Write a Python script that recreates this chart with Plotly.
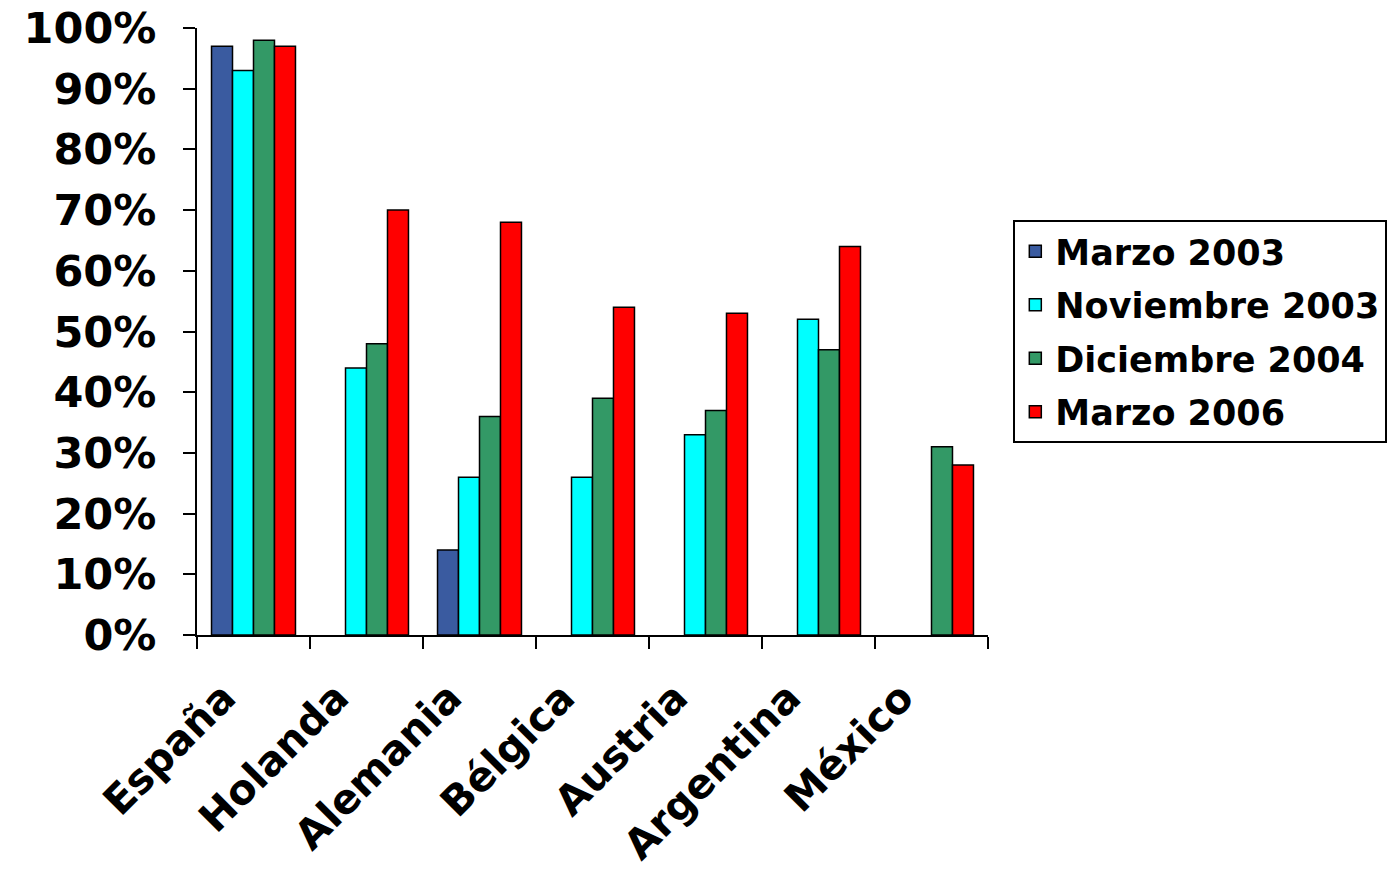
import plotly.graph_objects as go

categories = ["España", "Holanda", "Alemania", "Bélgica", "Austria", "Argentina", "México"]
series_names = ["Marzo 2003", "Noviembre 2003", "Diciembre 2004", "Marzo 2006"]
marzo_2003 = [0.97, None, 0.14, None, None, None, None]
noviembre_2003 = [0.93, 0.44, 0.26, 0.26, 0.33, 0.52, None]
diciembre_2004 = [0.98, 0.48, 0.36, 0.39, 0.37, 0.47, 0.31]
marzo_2006 = [0.97, 0.70, 0.68, 0.54, 0.53, 0.64, 0.28]
colors = ["#3A5BA0", "#00FFFF", "#339966", "#FF0000"]

FONT = "DejaVu Sans"

fig = go.Figure()
for i, (name, vals, col) in enumerate(zip(series_names, [marzo_2003, noviembre_2003, diciembre_2004, marzo_2006], colors)):
    fig.add_trace(go.Bar(
        name=name, x=categories, y=vals, legendgroup=f"g{i}",
        marker=dict(color=col, line=dict(color="black", width=1.5)),
    ))

fig.update_layout(
    width=1392, height=875,
    margin=dict(l=197, r=404, t=28, b=240, autoexpand=False),
    paper_bgcolor="white", plot_bgcolor="white",
    barmode="group", bargap=0.257, bargroupgap=0,
    font=dict(family=FONT, color="black", weight="bold"),
    showlegend=True,
    legend=dict(
        x=1.032, y=0.5, xanchor="left", yanchor="middle",
        bordercolor="black", borderwidth=2, bgcolor="white",
        font=dict(family=FONT, size=35, color="black", weight="bold"),
        traceorder="grouped", tracegroupgap=5,
    ),
)
fig.update_xaxes(
    automargin=False,
    showline=True, linecolor="black", linewidth=2,
    ticks="outside", ticklen=12, tickwidth=2, tickcolor="black",
    tickson="boundaries", tickangle=-45,
    ticklabelstandoff=20, ticklabelshift=-30,
    tickfont=dict(family=FONT, size=41, color="black", weight="bold"),
    showgrid=False, zeroline=False,
)
fig.update_yaxes(
    automargin=False,
    range=[0, 1], dtick=0.1, tick0=0, tickformat=".0%",
    showline=True, linecolor="black", linewidth=2,
    ticks="outside", ticklen=12, tickwidth=2, tickcolor="black",
    ticklabelstandoff=18,
    tickfont=dict(family=FONT, size=43, color="black", weight="bold"),
    showgrid=False, zeroline=False,
)

fig.write_html("out.html")
